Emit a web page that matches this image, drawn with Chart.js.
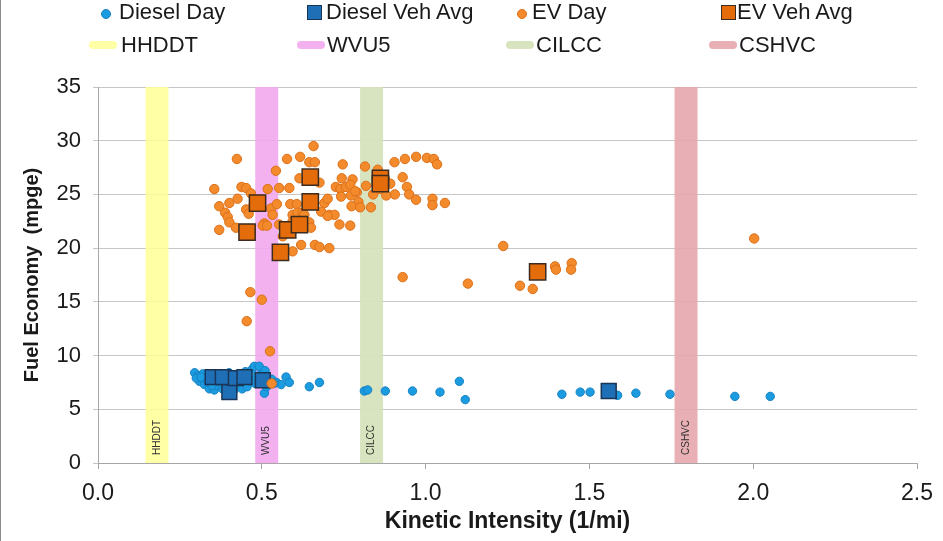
<!DOCTYPE html>
<html>
<head>
<meta charset="utf-8">
<script src="https://cdn.jsdelivr.net/npm/chart.js@4.4.1/dist/chart.umd.min.js"></script>
<style>
  html, body { margin:0; padding:0; background:#fff; }
  #wrap { position:relative; width:943px; height:541px; background:#fff; border-left:1px solid #8c8c8c; box-sizing:border-box; }
  #c { position:absolute; left:0; top:0; }
  .lg { position:absolute; font-family:"Liberation Sans", Arial, sans-serif; font-size:22px; color:#1a1a1a; white-space:nowrap; line-height:24px; }
  .mk { position:absolute; }
</style>
</head>
<body>
<div id="wrap">
  <canvas id="c" width="943" height="541"></canvas>
</div>
<script>
// ---------------- DATA ----------------
const seriesNames = ["Diesel Day", "Diesel Veh Avg", "EV Day", "EV Veh Avg"];
const bandNames = ["HHDDT", "WVU5", "CILCC", "CSHVC"];
// Cycle kinetic intensity bands (1/mi): [from, to]
const bandRanges = [[0.145, 0.215], [0.48, 0.55], [0.80, 0.87], [1.76, 1.83]];

const dieselDay = [
  [0.295,8.4],[0.305,8.1],[0.310,7.6],[0.320,8.3],[0.325,7.3],[0.330,7.9],[0.340,6.9],[0.345,8.2],
  [0.350,7.5],[0.355,6.8],[0.360,8.1],[0.365,7.2],[0.370,7.8],[0.375,8.3],[0.380,6.9],[0.385,7.5],
  [0.390,8.0],[0.395,7.1],[0.400,8.4],[0.410,7.4],[0.415,6.8],[0.420,7.9],[0.430,8.2],[0.435,7.3],
  [0.440,6.9],[0.445,7.7],[0.450,8.5],[0.455,7.1],[0.460,8.0],[0.470,8.7],[0.477,9.0],[0.480,7.4],
  [0.492,9.0],[0.495,8.2],[0.508,6.5],[0.505,7.6],[0.510,8.6],[0.520,7.3],[0.530,7.8],[0.545,7.5],
  [0.559,7.3],[0.574,8.0],[0.584,7.5],[0.645,7.1],[0.676,7.5],[0.813,6.7],[0.823,6.8],[0.877,6.7],
  [0.960,6.7],[1.044,6.6],[1.103,7.6],[1.121,5.9],[1.416,6.4],[1.472,6.6],[1.502,6.6],[1.586,6.3],
  [1.642,6.5],[1.746,6.4],[1.944,6.2],[2.052,6.2],
  [0.300,7.9],[0.315,8.0],[0.335,7.6],[0.348,7.2],[0.362,7.7],[0.378,7.4],[0.392,7.6],[0.405,7.0],
  [0.425,7.6],[0.438,7.8],[0.465,7.6],[0.485,8.0],[0.500,7.9],[0.515,7.1],[0.537,7.4]
];
const dieselVehAvg = [
  [0.350,8.0],[0.381,8.0],[0.401,6.6],[0.421,7.9],[0.447,8.0],[0.503,7.7],[1.559,6.7]
];
const evDay = [
  [0.424,28.3],[0.355,25.5],[0.370,23.9],[0.401,24.2],[0.426,24.6],[0.438,25.7],[0.452,25.6],[0.467,25.1],
  [0.388,23.3],[0.396,22.9],[0.401,22.4],[0.370,21.7],[0.421,21.9],[0.452,23.6],[0.460,23.2],[0.475,24.0],
  [0.518,25.5],[0.553,25.6],[0.584,25.6],[0.543,27.2],[0.577,28.3],[0.617,28.5],[0.645,28.0],[0.662,28.0],
  [0.658,29.5],[0.615,26.5],[0.676,26.1],[0.508,22.3],[0.503,22.1],[0.516,22.1],[0.528,23.7],[0.533,23.1],
  [0.546,24.1],[0.553,22.2],[0.587,24.1],[0.607,24.1],[0.594,23.1],[0.609,23.3],[0.625,23.3],[0.594,22.5],
  [0.630,23.1],[0.645,22.4],[0.650,21.9],[0.564,21.1],[0.620,20.3],[0.594,19.7],[0.662,20.3],[0.676,20.1],
  [0.706,20.0],[0.691,24.2],[0.701,24.6],[0.681,23.4],[0.706,23.1],[0.722,23.1],[0.701,23.0],[0.737,22.2],
  [0.770,22.1],[0.747,27.8],[0.815,27.6],[0.854,27.3],[0.905,28.0],[0.937,28.3],[0.971,28.5],[1.004,28.4],
  [1.025,28.3],[1.035,27.8],[0.744,26.5],[0.777,26.4],[0.726,25.7],[0.740,25.5],[0.757,25.7],[0.770,25.9],
  [0.790,25.2],[0.742,24.8],[0.772,24.9],[0.785,25.3],[0.795,24.3],[0.818,25.8],[0.774,23.9],[0.800,23.8],
  [0.833,23.8],[0.892,26.0],[0.906,25.0],[0.930,26.6],[0.943,25.7],[0.950,25.0],[0.971,24.5],[1.021,24.6],
  [1.021,24.0],[1.059,24.2],[0.840,25.0],[0.860,25.5],[0.875,26.5],[0.880,24.9],
  [0.930,17.3],[1.129,16.7],[1.237,20.2],[1.288,16.5],[1.327,16.2],[1.395,18.3],[1.398,18.0],[1.446,18.6],
  [1.444,18.0],[2.003,20.9],[0.465,15.9],[0.500,15.2],[0.454,13.2],[0.525,10.4],[0.530,7.4]
];
const evVehAvg = [
  [0.487,24.2],[0.455,21.5],[0.579,21.7],[0.615,22.2],[0.557,19.6],[0.648,26.6],[0.648,24.3],
  [0.862,26.5],[0.862,26.0],[1.342,17.8]
];
const xTicks = [0.0, 0.5, 1.0, 1.5, 2.0, 2.5];
const yTicks = [0, 5, 10, 15, 20, 25, 30, 35];
const xTitle = "Kinetic Intensity (1/mi)";
const yTitle = "Fuel Economy  (mpge)";

// ---------------- STYLE ----------------
const FONT = "'Liberation Sans', Arial, sans-serif";
const bandColors = ["rgba(255,255,150,0.85)", "rgba(242,168,238,0.9)", "rgba(214,227,188,0.95)", "rgba(229,166,172,0.9)"];
const toPts = arr => arr.map(p => ({x: p[0], y: p[1]}));

const datasets = [
  { label: seriesNames[3], data: toPts(evVehAvg), pointStyle: 'rect', pointRadius: 11.5, pointBorderWidth: 1.5,
    backgroundColor: '#e46c0a', borderColor: '#3d2b1f', order: 1 },
  { label: seriesNames[2], data: toPts(evDay), pointStyle: 'circle', pointRadius: 4.7, pointBorderWidth: 1,
    backgroundColor: '#f38b2c', borderColor: '#dc6f18', order: 2 },
  { label: seriesNames[1], data: toPts(dieselVehAvg), pointStyle: 'rect', pointRadius: 10.5, pointBorderWidth: 1.5,
    backgroundColor: '#1f6fb6', borderColor: '#1a3556', order: 3 },
  { label: seriesNames[0], data: toPts(dieselDay), pointStyle: 'circle', pointRadius: 4.2, pointBorderWidth: 1,
    backgroundColor: '#1b9ce0', borderColor: '#1680c2', order: 4 }
];
bandNames.forEach((n, i) => {
  const xc = (bandRanges[i][0] + bandRanges[i][1]) / 2;
  datasets.push({
    label: n, type: 'line', data: [{x: xc, y: 0}, {x: xc, y: 35}], showLine: true,
    borderColor: bandColors[i], backgroundColor: bandColors[i], borderWidth: 23, borderCapStyle: 'butt',
    pointRadius: 0, order: 10, fill: false
  });
});

// band labels plugin
const bandLabels = {
  id: 'bandLabels',
  afterDatasetsDraw(chart) {
    const {ctx, scales: {x, y}} = chart;
    ctx.save();
    ctx.font = "10px " + FONT;
    ctx.fillStyle = '#333';
    ctx.textAlign = 'left';
    ctx.textBaseline = 'middle';
    bandNames.forEach((n, i) => {
      const xc = x.getPixelForValue((bandRanges[i][0] + bandRanges[i][1]) / 2);
      ctx.save();
      ctx.translate(xc, y.getPixelForValue(0) - 8);
      ctx.rotate(-Math.PI / 2);
      ctx.fillText(n, 0, 0);
      ctx.restore();
    });
    ctx.restore();
  }
};

const chart = new Chart(document.getElementById('c'), {
  type: 'scatter',
  data: { datasets },
  options: {
    responsive: false,
    animation: false,
    layout: { padding: { top: 87, right: 27, bottom: 0, left: 0 } },
    plugins: { legend: { display: false }, tooltip: { enabled: false } },
    scales: {
      x: {
        type: 'linear', min: 0, max: 2.5,
        afterBuildTicks: s => { s.ticks = xTicks.map(v => ({value: v})); },
        afterFit: s => { s.height = 78; },
        ticks: { callback: v => v.toFixed(1), font: { family: FONT, size: 23 }, color: '#1a1a1a', padding: 11, maxRotation: 0 },
        grid: { drawOnChartArea: false, drawTicks: true, tickLength: 6, color: '#a6a6a6' },
        border: { color: '#a6a6a6' },
        title: { display: true, text: xTitle, font: { family: FONT, size: 23, weight: 'bold' }, color: '#1a1a1a', padding: { top: 0, bottom: 6 } }
      },
      y: {
        type: 'linear', min: 0, max: 35,
        afterBuildTicks: s => { s.ticks = yTicks.map(v => ({value: v})); },
        afterFit: s => { s.width = 97; },
        ticks: { font: { family: FONT, size: 22 }, color: '#1a1a1a', padding: 12 },
        grid: { color: '#c6c6c6', tickLength: 5, drawTicks: true },
        border: { color: '#a6a6a6' },
        title: { display: true, text: yTitle, font: { family: FONT, size: 20, weight: 'bold' }, color: '#1a1a1a', padding: { top: 19, bottom: 0 } }
      }
    }
  },
  plugins: [bandLabels]
});

// ---------------- HTML legend ----------------
const wrap = document.getElementById('wrap');
function addText(txt, left, top) {
  const d = document.createElement('div');
  d.className = 'lg'; d.textContent = txt;
  d.style.left = left + 'px'; d.style.top = top + 'px';
  wrap.appendChild(d);
}
function addMarker(style) {
  const m = document.createElement('div');
  m.className = 'mk';
  Object.assign(m.style, style);
  wrap.appendChild(m);
}
const row1Top = 0, row2Top = 33;
const seriesLegend = [
  { name: seriesNames[0], mk: {left:'100px', top:'9px', width:'8px', height:'8px', borderRadius:'50%', background:'#1b9ce0', border:'1px solid #1680c2'}, tx: 118 },
  { name: seriesNames[1], mk: {left:'306px', top:'5px', width:'13px', height:'13px', background:'#1f6fb6', border:'1.5px solid #1a3556'}, tx: 325 },
  { name: seriesNames[2], mk: {left:'516px', top:'9px', width:'8px', height:'8px', borderRadius:'50%', background:'#f38b2c', border:'1px solid #dc6f18'}, tx: 531 },
  { name: seriesNames[3], mk: {left:'720px', top:'5px', width:'13px', height:'13px', background:'#e46c0a', border:'1.5px solid #3d2b1f'}, tx: 736 }
];
seriesLegend.forEach(s => { addMarker(s.mk); addText(s.name, s.tx, row1Top); });
const bandLegendX = [[88, 120], [296, 326], [505, 535], [708, 738]];
bandNames.forEach((n, i) => {
  addMarker({left: bandLegendX[i][0] + 'px', top: '41px', width: '28px', height: '8px', borderRadius: '4px', background: bandColors[i]});
  addText(n, bandLegendX[i][1], row2Top);
});
</script>
</body>
</html>
